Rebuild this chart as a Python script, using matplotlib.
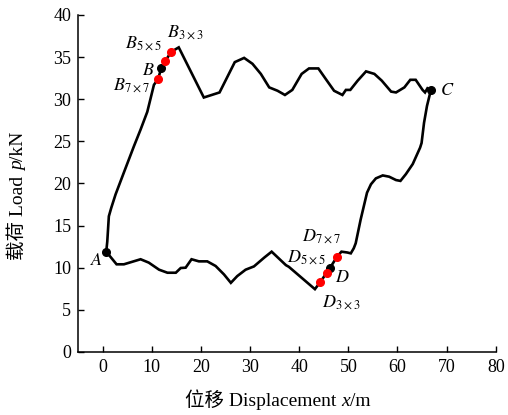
import matplotlib
matplotlib.use("Agg")
import matplotlib.pyplot as plt

plt.rcParams['font.family'] = ['Liberation Serif', 'Noto Sans CJK SC', 'DejaVu Sans']
plt.rcParams['mathtext.fontset'] = 'stix'

# curve (closed loop A -> B -> C -> D -> A)
curve_x = [0.75, 0.96, 1.28, 1.77, 2.65, 4.34, 6.37, 7.74, 9.1, 10.45, 11.3, 11.95, 12.77, 13.9, 15.5,
           20.6, 23.8, 26.9, 28.8, 30.5, 32.2, 33.9, 35.6, 37.1, 38.6, 40.5, 42.0, 43.9, 45.4, 47.1,
           48.8, 49.5, 50.4, 51.9, 53.6, 55.3, 56.8, 58.7, 59.7, 61.4, 62.6, 63.7, 65.1, 65.6, 66.1, 66.8,
           66.0, 65.4, 64.9, 64.6, 63.1, 61.7, 60.6, 59.7, 58.3, 57.0, 55.6, 54.6, 53.8, 52.5, 51.5,
           51.1, 50.5, 49.8, 48.6, 47.7, 46.3, 45.6, 44.3, 43.2,
           37.9, 37.3, 34.4, 32.9, 30.8, 29.1, 27.4, 26.1, 24.7, 23.0, 21.3, 19.6, 18.1, 16.9, 15.9,
           14.9, 13.2, 11.5, 9.4, 7.74, 4.34, 2.85, 0.75]
curve_y = [11.9, 13.1, 16.1, 17.1, 18.7, 21.3, 24.4, 26.4, 28.5, 31.7, 32.4, 33.7, 34.5, 35.6, 36.15,
           30.2, 30.8, 34.4, 34.9, 34.2, 33.0, 31.4, 31.0, 30.5, 31.1, 33.0, 33.65, 33.65, 32.4, 31.0,
           30.5, 31.1, 31.1, 32.2, 33.3, 33.0, 32.2, 30.9, 30.8, 31.4, 32.3, 32.3, 31.1, 30.8, 31.3, 31.1,
           29.2, 27.2, 24.8, 24.25, 22.3, 21.1, 20.3, 20.4, 20.8, 20.95, 20.6, 19.9, 18.9, 15.7, 12.9,
           12.3, 11.7, 11.8, 11.9, 11.3, 10.0, 9.4, 8.3, 7.45,
           10.1, 10.3, 11.9, 11.2, 10.15, 9.76, 9.0, 8.2, 9.2, 10.2, 10.75, 10.75, 11.0, 10.0, 9.96,
           9.4, 9.4, 9.76, 10.6, 11.0, 10.4, 10.4, 11.9]

# key points
black_x = [0.75, 11.95, 66.8, 46.3]
black_y = [11.9, 33.7, 31.1, 10.0]
red_x = [11.3, 12.77, 13.9, 47.7, 45.6, 44.3]
red_y = [32.4, 34.5, 35.6, 11.3, 9.4, 8.3]

labels = [r'$A$', r'$B_{3\times3}$', r'$B_{5\times5}$', r'$B$', r'$B_{7\times7}$', r'$C$',
          r'$D_{7\times7}$', r'$D_{5\times5}$', r'$D$', r'$D_{3\times3}$']
label_x = [-2.6, 13.1, 4.5, 8.0, 2.1, 68.6, 40.5, 37.5, 47.3, 44.6]
label_y = [10.3, 37.4, 36.1, 32.9, 31.1, 30.5, 13.1, 10.7, 8.3, 5.3]

xticks = [0, 10, 20, 30, 40, 50, 60, 70, 80]
yticks = [0, 5, 10, 15, 20, 25, 30, 35, 40]

xlabel_parts = [('位移 Displacement ', 'normal'), ('x', 'italic'), ('/m', 'normal')]
ylabel_parts = [('载荷 Load ', 'normal'), ('p', 'italic'), ('/kN', 'normal')]

W, H = 508, 415
fig = plt.figure(figsize=(W / 100, H / 100), dpi=100)
ax = fig.add_axes([0.1535, 0.152, 0.8225, 0.812])
ax.plot(curve_x, curve_y, color='black', lw=1.9, solid_joinstyle='miter', zorder=2)
ax.plot(black_x, black_y, 'o', color='black', ms=5.5, zorder=3)
ax.plot(red_x, red_y, 'o', color='red', ms=5.5, zorder=3)
for t, x, y in zip(labels, label_x, label_y):
    ax.text(x, y, t, fontsize=13, ha='left', va='baseline')

ax.set_xlim(-5, 80)
ax.set_ylim(0, 40)
ax.set_xticks(xticks)
ax.set_yticks(yticks)
ax.tick_params(direction='in', length=4, width=1, labelsize=13, pad=5)
for s in ['top', 'right']:
    ax.spines[s].set_visible(False)
for s in ['left', 'bottom']:
    ax.spines[s].set_linewidth(1.1)

renderer = fig.canvas.get_renderer()


def chained(parts, center, rotation, size=14):
    texts = []
    for s, style in parts:
        fam = ['Liberation Serif', 'Noto Sans CJK SC'] if style == 'normal' else ['Liberation Serif']
        t = fig.text(0, 0, s, fontsize=size, style=style, family=fam, rotation=rotation,
                     ha='left', va='baseline', rotation_mode='anchor', transform=None)
        texts.append(t)
    lens = []
    for t in texts:
        bb = t.get_window_extent(renderer)
        lens.append(bb.width if rotation == 0 else bb.height)
    total = sum(lens)
    cx, cy = center
    pos = -total / 2
    for t, L in zip(texts, lens):
        if rotation == 0:
            t.set_position((cx + pos, cy))
        else:
            t.set_position((cx, cy + pos))
        pos += L


# figure pixel coords (origin bottom-left)
chained(xlabel_parts, (278, H - 406), 0)
chained(ylabel_parts, (23, H - 196), 90)

fig.savefig('out.png', dpi=100)
